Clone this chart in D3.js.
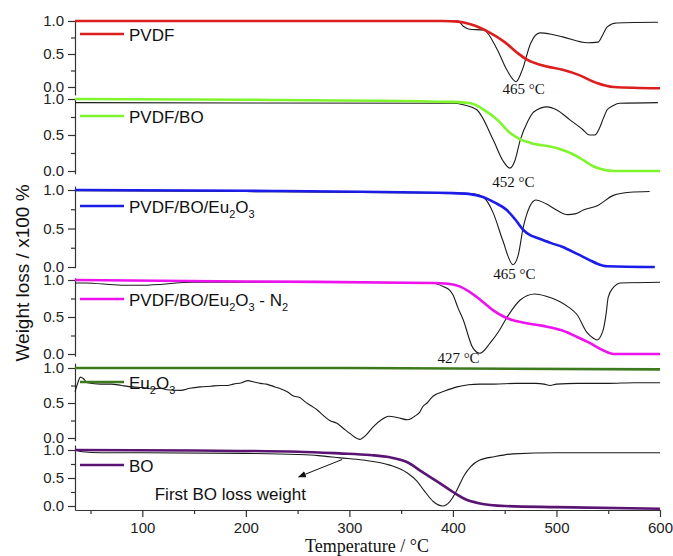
<!DOCTYPE html>
<html><head><meta charset="utf-8">
<script src="https://cdn.jsdelivr.net/npm/d3@7"></script>
<style>body{margin:0;background:#fff}</style>
</head><body>
<svg id="c" width="673" height="556"></svg>
<script>
// ---------- data (temperature °C, normalized weight) ----------
const sampleNames = ["PVDF", "PVDF/BO", "PVDF/BO/Eu2O3", "PVDF/BO/Eu2O3 - N2", "Eu2O3", "BO"];
const tgColors = ["#dc1e1e", "#7ef52c", "#1c1ce8", "#ee12ee", "#3d7a1e", "#5a1574"];
const xTicks = [100, 200, 300, 400, 500, 600];
const xMinor = [50, 150, 250, 350, 450, 550];
const yTicks = [0, 0.5, 1.0];
const yMinor = [0.25, 0.75];

const pvdfTG = [[35,1.0],[300,1.0],[390,1.0],[405,0.99],[417,0.95],[436,0.82],[450,0.68],[462,0.52],[472,0.41],[486,0.33],[506,0.26],[522,0.18],[539,0.06],[555,0.0],[600,-0.02]];
const pvdfDTG = [[35,1.0],[300,1.0],[405,1.0],[410,0.92],[415,0.88],[430,0.86],[443,0.56],[452,0.26],[461,0.08],[467,0.26],[475,0.66],[484,0.82],[495,0.80],[506,0.76],[530,0.67],[540,0.68],[545,0.80],[549,0.91],[558,0.97],[598,0.98]];

const pvdfBoTG = [[35,1.0],[200,0.99],[400,0.96],[417,0.94],[430,0.85],[443,0.71],[455,0.53],[465,0.44],[475,0.39],[500,0.32],[515,0.24],[526,0.15],[535,0.07],[542,0.03],[555,0.0],[600,0.0]];
const pvdfBoDTG = [[35,0.95],[400,0.94],[410,0.92],[423,0.85],[439,0.43],[448,0.15],[455,0.04],[460,0.15],[465,0.43],[472,0.68],[478,0.82],[491,0.89],[500,0.85],[513,0.71],[525,0.58],[532,0.50],[537,0.50],[542,0.61],[545,0.72],[549,0.85],[555,0.91],[561,0.94],[598,0.95]];

const pvdfBoEuTG = [[35,1.0],[200,0.99],[400,0.96],[415,0.95],[429,0.91],[440,0.84],[452,0.74],[460,0.62],[468,0.48],[475,0.41],[481,0.38],[495,0.31],[506,0.26],[520,0.17],[532,0.09],[540,0.04],[549,0.01],[595,0.0]];
const pvdfBoEuDTG = [[35,0.99],[200,0.98],[400,0.96],[420,0.95],[430,0.90],[439,0.70],[448,0.35],[458,0.03],[463,0.15],[468,0.52],[474,0.78],[480,0.87],[490,0.82],[500,0.74],[511,0.68],[518,0.69],[526,0.74],[540,0.80],[555,0.93],[571,0.97],[590,0.98]];

const n2TG = [[35,1.0],[200,0.98],[380,0.96],[395,0.95],[407,0.91],[415,0.85],[423,0.77],[431,0.68],[439,0.59],[447,0.52],[455,0.47],[470,0.42],[487,0.38],[505,0.32],[520,0.23],[532,0.15],[545,0.05],[555,0.0],[600,0.0]];
const n2DTG = [[35,0.96],[45,0.96],[80,0.93],[100,0.93],[150,0.97],[300,0.97],[380,0.96],[391,0.91],[397,0.86],[400,0.80],[405,0.62],[410,0.46],[419,0.09],[426,0.01],[436,0.15],[444,0.30],[452,0.49],[465,0.73],[479,0.81],[490,0.78],[503,0.71],[512,0.63],[520,0.53],[529,0.30],[535,0.22],[539,0.19],[545,0.32],[548,0.55],[550,0.77],[555,0.90],[562,0.96],[600,0.97]];

const euTG = [[35,1.0],[300,1.0],[600,0.98]];
const euDTG = [[35,0.66],[38,0.80],[40,0.87],[43,0.85],[47,0.79],[60,0.77],[70,0.77],[80,0.75],[91,0.73],[100,0.72],[110,0.70],[117,0.71],[124,0.69],[137,0.68],[146,0.71],[156,0.73],[166,0.74],[175,0.75],[182,0.75],[188,0.77],[196,0.79],[202,0.82],[208,0.80],[214,0.78],[220,0.77],[228,0.73],[234,0.70],[240,0.66],[246,0.60],[252,0.58],[257,0.52],[263,0.46],[269,0.40],[275,0.32],[281,0.25],[288,0.21],[294,0.14],[300,0.07],[310,-0.02],[316,0.04],[323,0.16],[331,0.26],[338,0.31],[347,0.29],[356,0.26],[360,0.28],[363,0.31],[368,0.37],[371,0.45],[375,0.50],[381,0.60],[392,0.67],[404,0.73],[415,0.76],[426,0.77],[440,0.77],[460,0.78],[480,0.78],[488,0.77],[494,0.75],[500,0.77],[520,0.78],[550,0.78],[575,0.79],[600,0.79]];

const boTG = [[35,1.0],[150,0.99],[250,0.97],[290,0.94],[320,0.91],[339,0.87],[355,0.79],[371,0.60],[388,0.40],[400,0.25],[412,0.12],[425,0.05],[450,0.0],[500,-0.02],[600,-0.05]];
const boDTG = [[35,1.0],[42,0.97],[60,0.95],[100,0.95],[200,0.94],[250,0.92],[270,0.90],[291,0.86],[313,0.82],[339,0.73],[356,0.59],[365,0.45],[372,0.28],[381,0.08],[390,0.0],[397,0.08],[404,0.29],[411,0.55],[417,0.70],[426,0.82],[440,0.88],[458,0.93],[500,0.95],[600,0.95]];

const tgSeries = [pvdfTG, pvdfBoTG, pvdfBoEuTG, n2TG, euTG, boTG];
const dtgSeries = [pvdfDTG, pvdfBoDTG, pvdfBoEuDTG, n2DTG, euDTG, boDTG];

// peak annotations: [panel, temperature, value, text]
const peakLabels = [[0, 448, -0.105, "465 °C"], [1, 438, -0.22, "452 °C"], [2, 439, -0.155, "465 °C"], [3, 385, -0.12, "427 °C"]];
const boNote = {text: "First BO loss weight", tx: 112, tv: 0.11, from: [293, 0.83], to: [251, 0.52]};

// ---------- layout ----------
const panels = [
  {y1: 21, y0: 87, lo: -0.12, hi: 1.0, leg: 34},
  {y1: 99, y0: 171, lo: -0.04, hi: 1.01, leg: 116},
  {y1: 190, y0: 267, lo: -0.01, hi: 1.05, leg: 206},
  {y1: 280, y0: 354, lo: -0.03, hi: 1.03, leg: 299},
  {y1: 368, y0: 438, lo: -0.04, hi: 1.07, leg: 382},
  {y1: 450, y0: 506, lo: -0.07, hi: 1.09, leg: 465}
];
const axisY = 510, left = 75, right = 660;
const svg = d3.select("#c");
const x = d3.scaleLinear().domain([35, 600]).range([left, right]);
const sans = "'Liberation Sans', Arial, sans-serif";
const serif = "'Liberation Serif', 'Times New Roman', serif";

const line = (ys) => d3.line().x(d => x(d[0])).y(d => ys(d[1])).curve(d3.curveMonotoneX);

panels.forEach((p, i) => {
  const k = p.y0 - p.y1;
  const ys = d3.scaleLinear().domain([p.lo, p.hi]).range([p.y0 - p.lo * k, p.y0 - p.hi * k]);
  p.ys = ys;
  const g = svg.append("g").attr("transform", `translate(${left},0)`);
  const ax = g.append("g").call(d3.axisLeft(ys).tickValues(yTicks).tickFormat(d3.format(".1f")).tickSize(7).tickSizeOuter(0));
  ax.select(".domain").attr("stroke", "#333").attr("stroke-width", 1.2);
  ax.selectAll(".tick line").attr("stroke", "#333").attr("stroke-width", 1.2);
  ax.selectAll(".tick text").attr("font-family", sans).attr("font-size", 15).attr("fill", "#222").attr("x", -11);
  const mn = g.append("g").call(d3.axisLeft(ys).tickValues(yMinor).tickFormat("").tickSize(4).tickSizeOuter(0));
  mn.select(".domain").remove();
  mn.selectAll(".tick line").attr("stroke", "#333").attr("stroke-width", 1.2);

  // DTG (black) and TG (coloured)
  svg.append("path").datum(dtgSeries[i]).attr("d", line(ys)).attr("fill", "none").attr("stroke", "#1a1a1a").attr("stroke-width", 1.1);
  svg.append("path").datum(tgSeries[i]).attr("d", line(ys)).attr("fill", "none").attr("stroke", tgColors[i]).attr("stroke-width", 2.6);

  // legend
  svg.append("line").attr("x1", 80).attr("x2", 124).attr("y1", p.leg).attr("y2", p.leg).attr("stroke", tgColors[i]).attr("stroke-width", 2.6);
  const t = svg.append("text").attr("x", 129).attr("y", p.leg + 7).attr("font-family", sans).attr("font-size", 17).attr("fill", "#111");
  const parts = sampleNames[i].split(/(\d)/);
  parts.forEach(s => {
    if (s === "") return;
    if (/^\d$/.test(s)) {
      t.append("tspan").text(s).attr("font-size", 11).attr("dy", 5);
    } else {
      const ts = t.append("tspan").text(s);
      if (t.selectAll("tspan").size() > 1 && /\d/.test(t.selectAll("tspan").nodes().slice(-2)[0].textContent)) ts.attr("dy", -5);
    }
  });
});

// peak temperature labels
peakLabels.forEach(([pi, tt, v, txt]) => {
  svg.append("text").attr("x", x(tt)).attr("y", panels[pi].ys(v)).attr("font-family", serif).attr("font-size", 15).attr("fill", "#111").text(txt);
});

// BO note with arrow
svg.append("defs").append("marker").attr("id", "ah").attr("viewBox", "0 0 10 10").attr("refX", 9).attr("refY", 5)
  .attr("markerWidth", 8).attr("markerHeight", 8).attr("orient", "auto")
  .append("path").attr("d", "M0,1 L10,5 L0,9 Z").attr("fill", "#111");
const pb = panels[5].ys;
svg.append("line").attr("x1", x(boNote.from[0])).attr("y1", pb(boNote.from[1])).attr("x2", x(boNote.to[0])).attr("y2", pb(boNote.to[1]))
  .attr("stroke", "#111").attr("stroke-width", 1).attr("marker-end", "url(#ah)");
svg.append("text").attr("x", x(boNote.tx)).attr("y", pb(boNote.tv)).attr("font-family", sans).attr("font-size", 17).attr("fill", "#111").text(boNote.text);

// x axis
const xa = svg.append("g").attr("transform", `translate(0,${axisY})`).call(d3.axisBottom(x).tickValues(xTicks).tickSize(7).tickSizeOuter(0));
xa.select(".domain").attr("stroke", "#333").attr("stroke-width", 1.2);
xa.selectAll(".tick line").attr("stroke", "#333").attr("stroke-width", 1.2);
xa.selectAll(".tick text").attr("font-family", sans).attr("font-size", 15).attr("fill", "#222").attr("y", 12);
const xm = svg.append("g").attr("transform", `translate(0,${axisY})`).call(d3.axisBottom(x).tickValues(xMinor).tickFormat("").tickSize(4).tickSizeOuter(0));
xm.select(".domain").remove();
xm.selectAll(".tick line").attr("stroke", "#333").attr("stroke-width", 1.2);

// axis titles
svg.append("text").attr("x", 367).attr("y", 552).attr("text-anchor", "middle").attr("font-family", serif).attr("font-size", 18).attr("fill", "#111").text("Temperature / °C");
svg.append("text").attr("transform", "translate(29,273) rotate(-90)").attr("text-anchor", "middle").attr("font-family", sans).attr("font-size", 19).attr("fill", "#111").text("Weight loss / x100 %");
</script>
</body></html>
